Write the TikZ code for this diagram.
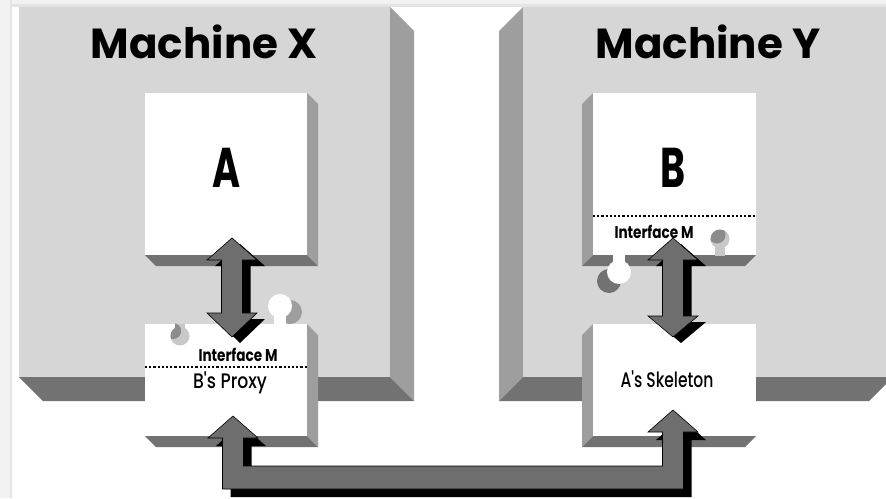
\documentclass[tikz,border=0pt]{standalone}
\usepackage{fontspec}
\newfontfamily\pop{Poppins}
\newfontfamily\popm{Poppins Medium}
\begin{document}
\begin{tikzpicture}[x=1pt,y=-1pt,
  front/.style={fill=mfront},
  sidelt/.style={fill=mside},
  sidedk/.style={fill=mbottom},
  whitebox/.style={fill=white},
  arrowbody/.style={fill=arrowgray,draw=black,line width=0.6pt,line join=miter},
  arrowshadow/.style={fill=black},
  sep/.style={draw=black,line width=1.2pt,dash pattern=on 2.2pt off 2pt},
  title/.style={font=\pop\bfseries\fontsize{42}{42}\selectfont,inner sep=0pt},
  big/.style={font=\pop\bfseries\fontsize{56}{56}\selectfont,inner sep=0pt},
  small/.style={font=\pop\bfseries\fontsize{17}{17}\selectfont,inner sep=0pt},
  label/.style={font=\popm\fontsize{21}{21}\selectfont,inner sep=0pt}
]
\definecolor{mfront}{HTML}{D6D6D6}
\definecolor{mside}{HTML}{9E9E9E}
\definecolor{mbottom}{HTML}{727272}
\definecolor{arrowgray}{HTML}{6E6E6E}
\definecolor{strip}{HTML}{F2F2F2}
\definecolor{stripdk}{HTML}{E4E4E4}
\definecolor{socketlt}{HTML}{C8C8C8}
\definecolor{socketdk}{HTML}{8C8C8C}
\useasboundingbox (0,0) rectangle (886,498);
\clip (0,0) rectangle (886,498);
\fill[white] (0,0) rectangle (886,498);
% background strips
\fill[strip] (0,0) rectangle (886,7);
\fill[stripdk] (0,4) rectangle (886,7);
\fill[strip] (0,0) rectangle (12,498);
\fill[stripdk] (10,0) rectangle (12,498);

% ---------- Machine X (extruded right-down, d=24) ----------
\fill[sidelt] (390,7) -- (414,31) -- (414,401) -- (390,377) -- cycle;
\fill[sidedk] (19,377) -- (390,377) -- (414,401) -- (43,401) -- cycle;
\fill[front] (19,7) rectangle (390,377);
% ---------- Machine Y (extruded left-down) ----------
\fill[sidelt] (523,7) -- (499,31) -- (499,401) -- (523,377) -- cycle;
\fill[sidedk] (523,377) -- (893,377) -- (869,401) -- (499,401) -- cycle;
\fill[front] (523,7) rectangle (893,377);

% ---------- Box A ----------
\fill[sidelt] (307,93) -- (318,104) -- (318,266) -- (307,255) -- cycle;
\fill[sidedk] (145,255) -- (307,255) -- (318,266) -- (156,266) -- cycle;
\node[whitebox,minimum width=162pt,minimum height=162pt,inner sep=0pt,anchor=north west] (A) at (145,93) {};
\node[big] (Alab) at (227,168) {\scalebox{0.68}[1]{A}};

% ---------- B's Proxy ----------
\fill[sidelt] (307,324) -- (318,335) -- (318,447) -- (307,436) -- cycle;
\fill[sidedk] (145,436) -- (307,436) -- (318,447) -- (156,447) -- cycle;
% knob shadow
\fill[mside] (290,312) circle (12);
\node[whitebox,minimum width=162pt,minimum height=112pt,inner sep=0pt,anchor=north west] (P) at (145,324) {};
% knob
\fill[white] (280,306) circle (12);
\fill[white] (274,312) rectangle (286,326);
% socket
\fill[socketlt] (180,336) circle (9.5);
\fill[socketlt] (175,323.5) rectangle (185,336);
\begin{scope}
\clip (180,336) circle (9.5);
\fill[socketdk] (173,331) circle (8);
\end{scope}
\begin{scope}
\clip (175,323.5) rectangle (185,336);
\fill[socketdk] (173,331) circle (8);
\end{scope}
\draw[sep] (145,367) -- (307,367);
\node[small] (PI) at (238,355) {\scalebox{0.8}[1]{Interface M}};
\node[label] (Plab) at (230,383) {\scalebox{0.82}[1]{B's Proxy}};

% ---------- Box B ----------
\fill[sidelt] (593,93) -- (582,104) -- (582,266) -- (593,255) -- cycle;
\fill[sidedk] (593,255) -- (756,255) -- (745,266) -- (582,266) -- cycle;
% knob shadow
\fill[mbottom] (609,281) circle (12);
\node[whitebox,minimum width=163pt,minimum height=162pt,inner sep=0pt,anchor=north west] (B) at (593,93) {};
\fill[white] (619,272) circle (12);
\fill[white] (613,250) rectangle (625,266);
% socket
\fill[socketlt] (720,239) circle (9.5);
\fill[socketlt] (715,239) rectangle (725,255.5);
\begin{scope}
\clip (720,239) circle (9.5);
\fill[socketdk] (717,235) circle (8.5);
\end{scope}
\draw[sep] (593,216) -- (756,216);
\node[big] (Blab) at (673,168) {\scalebox{0.68}[1]{B}};
\node[small] (BI) at (654,232) {\scalebox{0.8}[1]{Interface M}};

% ---------- A's Skeleton ----------
\fill[sidelt] (593,324) -- (582,335) -- (582,447) -- (593,436) -- cycle;
\fill[sidedk] (593,436) -- (756,436) -- (745,447) -- (582,447) -- cycle;
\node[whitebox,minimum width=163pt,minimum height=112pt,inner sep=0pt,anchor=north west] (S) at (593,324) {};
\node[label] (Slab) at (667,379) {\scalebox{0.74}[1]{A's Skeleton}};

% ---------- titles ----------
\node[title] (MX) at (204,42) {Machine X};
\node[title] (MY) at (708,42) {Machine Y};

% ---------- double arrows ----------
\newcommand{\darrowpath}[5]{(#1,#2) -- ({#1+25},#3) -- ({#1+10.5},#3) -- ({#1+10.5},#4) -- ({#1+25},#4) -- (#1,#5) -- ({#1-25},#4) -- ({#1-10.5},#4) -- ({#1-10.5},#3) -- ({#1-25},#3) -- cycle}
\fill[arrowshadow,shift={(8,6)}] \darrowpath{232}{238}{260}{313}{337};
\draw[arrowbody] \darrowpath{232}{238}{260}{313}{337};
\fill[arrowshadow,shift={(8,6)}] \darrowpath{673}{238}{260}{316}{337};
\draw[arrowbody] \darrowpath{673}{238}{260}{316}{337};

% ---------- bottom connector ----------
\newcommand{\bpath}{(233,416) -- (258,438) -- (243.5,438) -- (243.5,466) -- (662.5,466) -- (662.5,432) -- (648,432) -- (673,410) -- (698,432) -- (683.5,432) -- (683.5,489) -- (222.5,489) -- (222.5,438) -- (208,438) -- cycle}
\fill[arrowshadow,shift={(8,8)}] \bpath;
\draw[arrowbody] \bpath;
\end{tikzpicture}
\end{document}
